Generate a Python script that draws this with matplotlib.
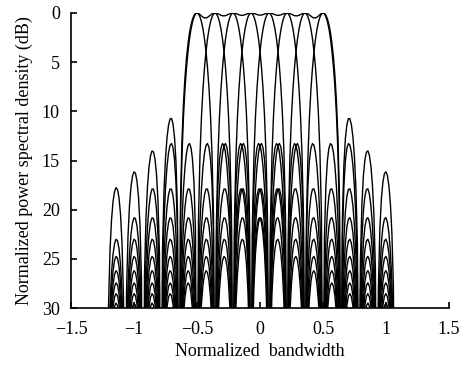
import numpy as np
import matplotlib.pyplot as plt

plt.rcParams['font.family'] = ['Liberation Serif', 'DejaVu Serif']
plt.rcParams['font.size'] = 13

# subcarrier centres (normalized bandwidth)
centers = [-0.5, -0.3571, -0.2143, -0.0714, 0.0714, 0.2143, 0.3571, 0.5]
null_spacing = 0.1429          # distance between spectral nulls
f_start, f_stop = -1.2143, 1.0714  # frequency span of the curves
f_step = 0.0119                # coarse sampling, as in the original plot
xticks = [-1.5, -1, -0.5, 0, 0.5, 1, 1.5]
xticklabels = ['\u22121.5', '\u22121', '\u22120.5', '0', '0.5', '1', '1.5']
yticks = [0, 5, 10, 15, 20, 25, 30]

f = np.arange(f_start, f_stop + f_step / 2, f_step)
psd = [np.sinc((f - c) / null_spacing) ** 2 for c in centers]
total = np.sum(psd, axis=0)
norm = total.max()

fig = plt.figure(figsize=(4.65, 3.65), dpi=100)
ax = fig.add_axes([0.1527, 0.156, 0.8129, 0.8084])

for p in psd:
    ax.plot(f, -10 * np.log10(np.maximum(p / norm, 1e-12)), color='black', lw=1.0)
ax.plot(f, -10 * np.log10(np.maximum(total / norm, 1e-12)), color='black', lw=1.0)

ax.set_xlim(-1.5, 1.5)
ax.set_ylim(30, 0)
ax.set_xticks(xticks)
ax.set_xticklabels(xticklabels)
ax.set_yticks(yticks)
ax.spines['top'].set_visible(False)
ax.spines['right'].set_visible(False)
ax.spines['left'].set_linewidth(1.2)
ax.spines['bottom'].set_linewidth(1.2)
ax.tick_params(direction='in', length=4, width=1.2)
ax.tick_params(axis='x', pad=9)
ax.tick_params(axis='y', pad=8)
ax.set_xlabel('Normalized  bandwidth', labelpad=4)
ax.set_ylabel('Normalized power spectral density (dB)', labelpad=6)

fig.savefig('out.png', dpi=100)
